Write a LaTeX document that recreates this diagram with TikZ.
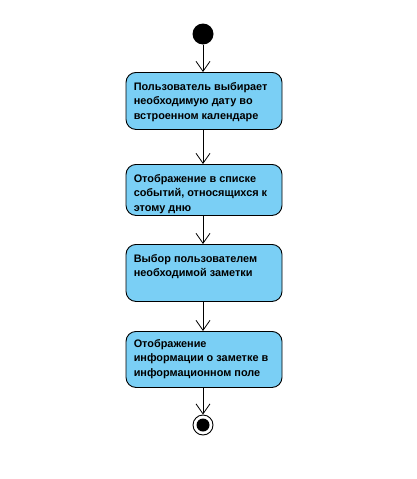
\documentclass[tikz,border=0pt]{standalone}
\usepackage{fontspec}
\setmainfont{Liberation Sans}
\usetikzlibrary{arrows.meta,positioning}
\definecolor{actfill}{RGB}{122,207,245}
\begin{document}
\begin{tikzpicture}[x=1pt,y=-1pt,
  action/.style={draw=black,line width=0.9pt,fill=actfill,rounded corners=10pt,
    minimum width=156pt,inner sep=0pt,anchor=north},
  label/.style={anchor=north west,align=left,inner sep=0pt,
    font=\fontsize{10.9}{14.5}\selectfont\bfseries},
  flow/.style={draw=black,line width=0.8pt,-{Straight Barb[length=10pt,width=14pt,line width=0.8pt]}},
  startdot/.style={circle,fill=black,minimum size=21pt,inner sep=0pt},
  endring/.style={circle,draw=black,line width=0.9pt,fill=white,minimum size=20pt,inner sep=0pt},
  enddot/.style={circle,fill=black,minimum size=13pt,inner sep=0pt}]
\useasboundingbox (0,0) rectangle (416,479);
\fill[white] (0,0) rectangle (416,479);

% initial state
\node[startdot] (start) at (203,34) {};

% actions
\node[action,minimum height=57pt] (a1) at (204,72) {};
\node[action,minimum height=51pt] (a2) at (204,164) {};
\node[action,minimum height=57pt] (a3) at (204,244) {};
\node[action,minimum height=56pt] (a4) at (204,331) {};

\node[label] (t1) at ([xshift=8pt,yshift=-10pt]a1.north west)
  {Пользователь выбирает\\необходимую дату во\\встроенном календаре};
\node[label] (t2) at ([xshift=8pt,yshift=-10pt]a2.north west)
  {Отображение в списке\\событий, относящихся к\\этому дню};
\node[label] (t3) at ([xshift=8pt,yshift=-10pt]a3.north west)
  {Выбор пользователем\\необходимой заметки};
\node[label] (t4) at ([xshift=8pt,yshift=-8pt]a4.north west)
  {Отображение\\информации о заметке в\\информационном поле};

% final state
\node[endring] (finish) at (203,425) {};
\node[enddot] (finishdot) at (finish.center) {};

% control flow
\draw[flow] (start) -- (start |- a1.north);
\draw[flow] (a1.south -| start) -- (start |- a2.north);
\draw[flow] (a2.south -| start) -- (start |- a3.north);
\draw[flow] (a3.south -| start) -- (start |- a4.north);
\draw[flow] (a4.south -| start) -- (finish.north);
\end{tikzpicture}
\end{document}
